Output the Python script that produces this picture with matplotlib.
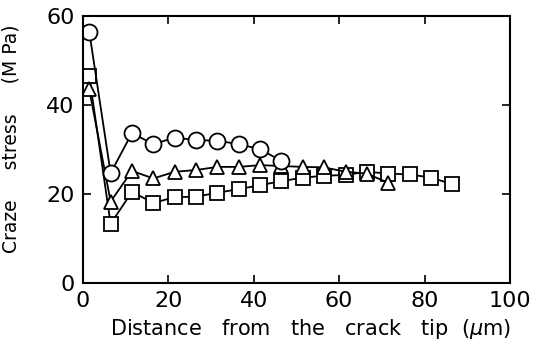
import matplotlib.pyplot as plt

# distances (um) and craze stress (MPa)
x_circle = [1.5, 6.5, 11.5, 16.5, 21.5, 26.5, 31.5, 36.5, 41.5, 46.5]
y_circle = [56.5, 24.7, 33.7, 31.2, 32.7, 32.1, 32.0, 31.2, 30.1, 27.4]

x_tri = [1.5, 6.5, 11.5, 16.5, 21.5, 26.5, 31.5, 36.5, 41.5, 46.5,
         51.5, 56.5, 61.5, 66.5, 71.5]
y_tri = [43.5, 18.3, 25.2, 23.5, 25.0, 25.4, 26.1, 26.1, 26.5, 26.3,
         26.1, 26.0, 25.0, 24.6, 22.5]

x_sq = [1.5, 6.5, 11.5, 16.5, 21.5, 26.5, 31.5, 36.5, 41.5, 46.5,
        51.5, 56.5, 61.5, 66.5, 71.5, 76.5, 81.5, 86.5]
y_sq = [46.5, 13.3, 20.5, 18.0, 19.3, 19.4, 20.3, 21.1, 22.0, 22.9,
        23.7, 24.1, 24.3, 25.0, 24.6, 24.4, 23.7, 22.2]

x_ticks = [0, 20, 40, 60, 80, 100]
y_ticks = [0, 20, 40, 60]

fig = plt.figure(figsize=(5.38, 3.49), dpi=100)
ax = fig.add_axes([0.154, 0.189, 0.794, 0.765])

style = dict(color="black", lw=1.3, mfc="white", mec="black", mew=1.3)
ax.plot(x_sq, y_sq, marker="s", ms=9.5, **style)
ax.plot(x_tri, y_tri, marker="^", ms=10, **style)
ax.plot(x_circle, y_circle, marker="o", ms=11.5, **style)

ax.set_xlim(0, 100)
ax.set_ylim(0, 60)
ax.set_xticks(x_ticks)
ax.set_yticks(y_ticks)
ax.tick_params(direction="in", length=6, width=1.2, top=True, right=True,
               labelsize=16, pad=6)
for s in ax.spines.values():
    s.set_linewidth(1.5)

ax.set_xlabel("Distance   from   the   crack   tip  ($\\mu$m)", fontsize=15)
ax.xaxis.set_label_coords(0.534, -0.128)
ax.set_ylabel("Craze     stress     (M Pa)", fontsize=13.5)
ax.yaxis.set_label_coords(-0.145, 0.541)

fig.savefig("out.png", dpi=100)
